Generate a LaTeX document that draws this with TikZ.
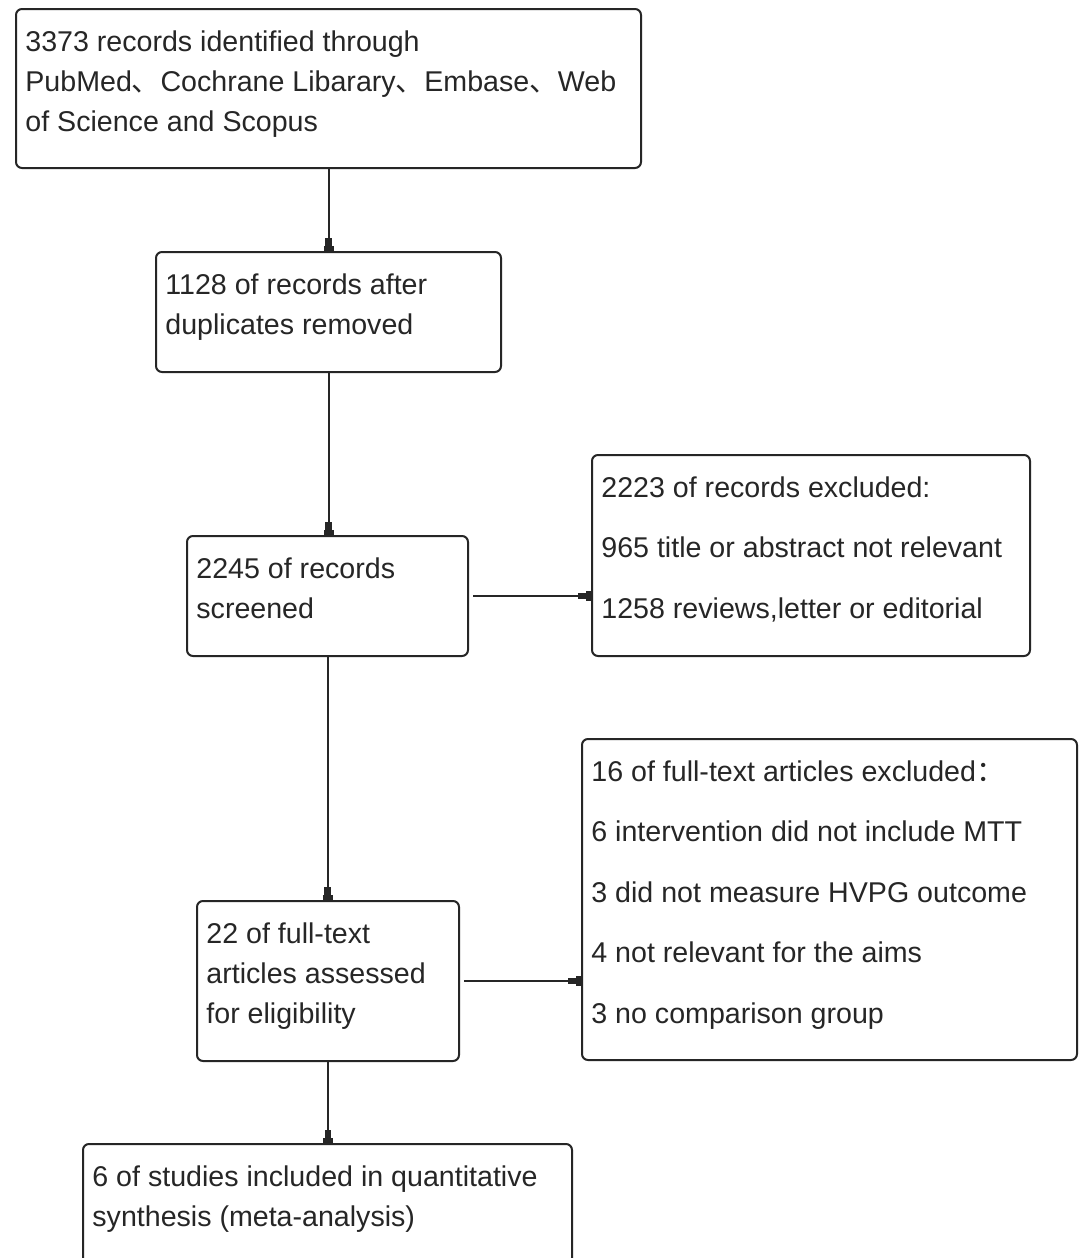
\documentclass[tikz,border=0pt]{standalone}
\usepackage{fontspec}
\setmainfont{Liberation Sans}
\newfontfamily\cjk{Noto Sans CJK SC}
\usetikzlibrary{arrows.meta}
\newcommand{\pxu}{0.5pt}
\tikzset{
    flowbox/.style={draw=black!85, line width=1pt, rounded corners=3pt, anchor=north west, inner sep=0pt},
    flowtext/.style={anchor=north west, inner sep=0pt, align=left, text=black!85, font=\fontsize{14.3}{20}\selectfont},
    widetext/.style={flowtext, font=\fontsize{14.3}{30.3}\selectfont},
    flowarrow/.style={line width=1pt, draw=black!85, -{Rectangle[length=4pt,width=3.4pt] Rectangle[length=2.5pt,width=5pt]}}
}

\begin{document}
\begin{tikzpicture}[x=\pxu, y=-\pxu]
    \fill[white] (0,0) rectangle (1079,1258);
    \useasboundingbox (0,0) rectangle (1079,1258);
    \clip (0,0) rectangle (1079,1258);

    % boxes of the main column
    \node[flowbox, minimum width=625*\pxu, minimum height=159*\pxu] (identified) at (15,8) {};
    \node[flowbox, minimum width=345*\pxu, minimum height=120*\pxu] (deduplicated) at (155,251) {};
    \node[flowbox, minimum width=281*\pxu, minimum height=120*\pxu] (screened) at (186,535) {};
    \node[flowbox, minimum width=262*\pxu, minimum height=160*\pxu] (eligible) at (196,900) {};
    \node[flowbox, minimum width=489*\pxu, minimum height=120*\pxu] (included) at (82,1143) {};

    % boxes of the exclusions
    \node[flowbox, minimum width=438*\pxu, minimum height=201*\pxu] (excludedA) at (591,454) {};
    \node[flowbox, minimum width=495*\pxu, minimum height=321*\pxu] (excludedB) at (581,738) {};

    % texts
    \node[flowtext] (identified-txt) at ([shift={(10,22)}]identified.north west)
        {3373 records identified through\\PubMed{\cjk 、}Cochrane Libarary{\cjk 、}Embase{\cjk 、}Web\\of Science and Scopus};
    \node[flowtext] (deduplicated-txt) at ([shift={(10,22)}]deduplicated.north west)
        {1128 of records after\\duplicates removed};
    \node[flowtext] (screened-txt) at ([shift={(10,22)}]screened.north west)
        {2245 of records\\screened};
    \node[flowtext] (eligible-txt) at ([shift={(10,22)}]eligible.north west)
        {22 of full-text\\articles assessed\\for eligibility};
    \node[flowtext] (included-txt) at ([shift={(10,22)}]included.north west)
        {6 of studies included in quantitative\\synthesis (meta-analysis)};
    \node[widetext] (excludedA-txt) at ([shift={(10,22)}]excludedA.north west)
        {2223 of records excluded:\\965 title or abstract not relevant\\1258 reviews,letter or editorial};
    \node[widetext] (excludedB-txt) at ([shift={(10,22)}]excludedB.north west)
        {16 of full-text articles excluded{\cjk ：}\\6 intervention did not include MTT\\3 did not measure HVPG outcome\\4 not relevant for the aims\\3 no comparison group};

    % connectors
    \draw[flowarrow] (identified.south) -- (identified.south |- deduplicated.north);
    \draw[flowarrow] (deduplicated.south) -- (deduplicated.south |- screened.north);
    \draw[flowarrow] (screened.south) -- (screened.south |- eligible.north);
    \draw[flowarrow] (eligible.south) -- (eligible.south |- included.north);
    \draw[flowarrow] ([xshift=4*\pxu]screened.east) -- (screened.east -| excludedA.west);
    \draw[flowarrow] ([xshift=4*\pxu]eligible.east) -- (eligible.east -| excludedB.west);
\end{tikzpicture}
\end{document}
